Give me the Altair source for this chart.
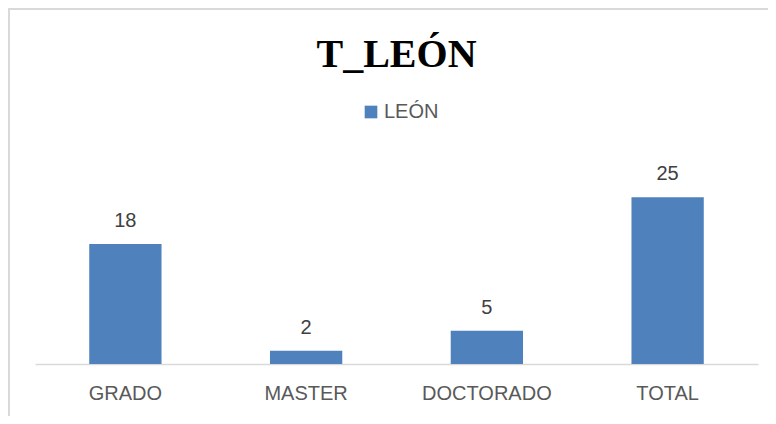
import altair as alt
import pandas as pd

categories = ["GRADO", "MASTER", "DOCTORADO", "TOTAL"]
values = [18, 2, 5, 25]
series = ["LEÓN"] * 4

df = pd.DataFrame({"cat": categories, "val": values, "serie": series})

FONT = "Liberation Sans Narrow, Liberation Sans, Arial Narrow, sans-serif"

base = alt.Chart(df).encode(
    x=alt.X("cat:N", sort=categories, title=None,
            scale=alt.Scale(paddingInner=0.6, paddingOuter=0.3),
            axis=alt.Axis(labelAngle=0, labelFont=FONT, labelFontSize=20,
                          labelColor="#595959", labelPadding=19, ticks=False,
                          domainColor="#d9d9d9", domainWidth=1.5, grid=False)),
    y=alt.Y("val:Q", title=None, scale=alt.Scale(domain=[0, 30]), axis=None),
)

bars = base.mark_bar(color="#4f81bd").encode(
    color=alt.Color("serie:N", title=None,
                    scale=alt.Scale(range=["#4f81bd"]),
                    legend=alt.Legend(orient="none", legendX=326, legendY=-62,
                                      symbolType="square", symbolSize=160,
                                      symbolStrokeWidth=0,
                                      labelFont=FONT, labelFontSize=20,
                                      labelColor="#595959", labelOffset=3))
)

labels = base.mark_text(baseline="alphabetic", dy=-17, font=FONT,
                        fontSize=20, color="#404040").encode(text="val:Q")

frame_left = alt.Chart(df).mark_rule(color="#d9d9d9", strokeWidth=2).encode(
    x=alt.value(-26), y=alt.value(-156), y2=alt.value(252))
frame_top = alt.Chart(df).mark_rule(color="#d9d9d9", strokeWidth=2).encode(
    x=alt.value(-26), x2=alt.value(733), y=alt.value(-155))

chart = alt.layer(frame_left, frame_top, bars, labels).properties(
    width=723, height=200,
    autosize=alt.AutoSizeParams(type="none"),
    padding={"left": 27, "top": 156, "right": 10, "bottom": 52},
    title=alt.Title("T_LEÓN", font="Liberation Serif", fontSize=40,
                    fontWeight="bold", color="#000000", anchor="middle",
                    offset=-68),
).configure_view(stroke=None)

chart.save("out.html", embed_options={"renderer": "svg", "actions": False})
